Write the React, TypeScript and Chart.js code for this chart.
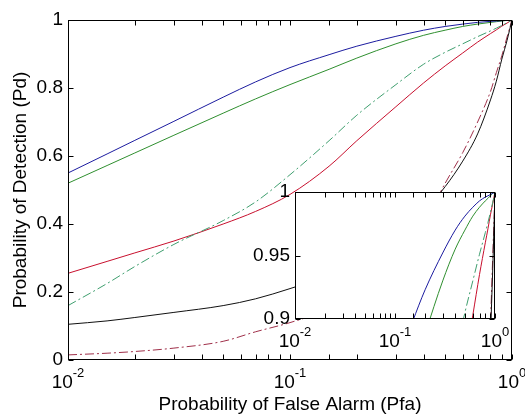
import React, { useEffect, useRef } from "react";
import { Chart, registerables } from "chart.js";

Chart.register(...registerables);

// Probability of false alarm (x)
const pfa = [0.01, 0.015, 0.02, 0.03, 0.05, 0.07, 0.1, 0.15, 0.2, 0.3, 0.4, 0.5, 0.6, 0.7, 0.8, 0.85, 0.9, 0.95, 1];

// Probability of detection for each curve
const pdBlue = [0.55, 0.606, 0.646, 0.702, 0.773, 0.818, 0.86, 0.898, 0.923, 0.952, 0.97, 0.981, 0.988, 0.993, 0.996, 0.997, 0.998, 0.999, 1];
const pdGreen = [0.52, 0.572, 0.609, 0.661, 0.726, 0.768, 0.81, 0.855, 0.888, 0.93, 0.955, 0.97, 0.981, 0.988, 0.993, 0.995, 0.997, 0.999, 1];
const pdGreenDashDot = [0.16, 0.225, 0.275, 0.34, 0.41, 0.465, 0.545, 0.645, 0.72, 0.81, 0.87, 0.905, 0.93, 0.951, 0.968, 0.976, 0.984, 0.992, 1];
const pdRed = [0.255, 0.29, 0.315, 0.35, 0.4, 0.437, 0.487, 0.57, 0.645, 0.745, 0.815, 0.865, 0.903, 0.935, 0.96, 0.971, 0.982, 0.991, 1];
const pdBlack = [0.105, 0.115, 0.125, 0.14, 0.16, 0.18, 0.21, 0.25, 0.29, 0.36, 0.435, 0.51, 0.585, 0.665, 0.765, 0.82, 0.885, 0.94, 1];
const pdRedDashDot = [0.015, 0.02, 0.025, 0.035, 0.055, 0.083, 0.11, 0.15, 0.2, 0.29, 0.4, 0.52, 0.61, 0.7, 0.79, 0.845, 0.895, 0.95, 1];

const seriesValues = [pdBlue, pdGreen, pdGreenDashDot, pdRed, pdBlack, pdRedDashDot];
const seriesNames = ["blue", "green", "green dash-dot", "red", "black", "red dash-dot"];
const seriesColors = ["#1c1ca0", "#2f8f2f", "#3f9f6f", "#c8102e", "#111111", "#a0304a"];
const seriesDashes: number[][] = [[], [], [9, 3, 2, 3], [], [], [9, 3, 2, 3]];

// Tick labels (x axis: base 10 with exponent)
const xTickBase = "10";
const xTickExponents: Record<string, string> = { "-2": "-2", "-1": "-1", "0": "0" };
const mainYTicks = [0, 0.2, 0.4, 0.6, 0.8, 1];
const insetYTicks = [0.9, 0.95, 1];

const FONT = "'Liberation Sans', Arial, Helvetica, sans-serif";
const BASE_SIZE = 19;
const EXP_SIZE = 13;

const makeDatasets = () =>
  seriesValues.map((vals, i) => ({
    label: seriesNames[i],
    data: pfa.map((x, j) => ({ x, y: vals[j] })),
    borderColor: seriesColors[i],
    borderDash: seriesDashes[i],
    borderWidth: 1,
    pointRadius: 0,
    fill: false,
    cubicInterpolationMode: "monotone" as const,
  }));

const yLabel = (v: number) => String(parseFloat(Number(v).toFixed(2)));

const boxPlugin = {
  id: "matlabBox",
  beforeDraw(chart: any) {
    const { ctx, chartArea: a } = chart;
    ctx.save();
    ctx.fillStyle = "#ffffff";
    ctx.fillRect(a.left, a.top, a.right - a.left, a.bottom - a.top);
    ctx.restore();
  },
  afterDraw(chart: any) {
    const { ctx, chartArea: a, scales } = chart;
    const tl = 5;
    ctx.save();
    ctx.strokeStyle = "#000";
    ctx.lineWidth = 1;
    const L = Math.round(a.left) + 0.5;
    const R = Math.round(a.right) - 0.5;
    const T = Math.round(a.top) + 0.5;
    const B = Math.round(a.bottom) - 0.5;
    ctx.beginPath();
    scales.x.ticks.forEach((t: any) => {
      const px = Math.round(scales.x.getPixelForValue(t.value)) + 0.5;
      ctx.moveTo(px, B);
      ctx.lineTo(px, B - tl);
      ctx.moveTo(px, T);
      ctx.lineTo(px, T + tl);
    });
    scales.y.ticks.forEach((t: any) => {
      const py = Math.round(scales.y.getPixelForValue(t.value)) + 0.5;
      ctx.moveTo(L, py);
      ctx.lineTo(L + tl, py);
      ctx.moveTo(R, py);
      ctx.lineTo(R - tl, py);
    });
    ctx.stroke();
    ctx.strokeRect(L, T, R - L, B - T);

    // x tick labels: "10" with superscript exponent at each decade
    ctx.fillStyle = "#000";
    ctx.textBaseline = "alphabetic";
    ctx.textAlign = "left";
    const baseY = a.bottom + 28;
    scales.x.ticks.forEach((t: any) => {
      const l = Math.log10(t.value);
      const r = Math.round(l);
      if (Math.abs(l - r) > 1e-9) return;
      const exp = xTickExponents[String(r)];
      if (exp === undefined) return;
      const px = scales.x.getPixelForValue(t.value);
      ctx.font = `${BASE_SIZE}px ${FONT}`;
      const wb = ctx.measureText(xTickBase).width;
      ctx.font = `${EXP_SIZE}px ${FONT}`;
      const we = ctx.measureText(exp).width;
      const x0 = px - (wb + we) / 2;
      ctx.font = `${BASE_SIZE}px ${FONT}`;
      ctx.fillText(xTickBase, x0, baseY);
      ctx.font = `${EXP_SIZE}px ${FONT}`;
      ctx.fillText(exp, x0 + wb, baseY - 11);
    });
    ctx.restore();
  },
};

export default function App() {
  const mainRef = useRef<HTMLCanvasElement>(null);
  const insetRef = useRef<HTMLCanvasElement>(null);

  useEffect(() => {
    Chart.defaults.font.family = FONT;
    Chart.defaults.color = "#000";

    const main = new Chart(mainRef.current!, {
      type: "line",
      data: { datasets: makeDatasets() },
      plugins: [boxPlugin],
      options: {
        animation: false,
        responsive: false,
        events: [],
        layout: { padding: { top: 20, right: 13, left: 0, bottom: 0 } },
        plugins: { legend: { display: false }, tooltip: { enabled: false } },
        scales: {
          x: {
            type: "logarithmic",
            min: 0.01,
            max: 1,
            grid: { display: false, drawTicks: false },
            border: { display: false },
            ticks: { display: false, autoSkip: false },
            title: {
              display: true,
              text: "Probability of False Alarm (Pfa)",
              color: "#000",
              font: { size: 19 },
              padding: { top: 0, bottom: 0 },
            },
            afterFit: (s: any) => {
              s.height = 56;
              s.paddingLeft = 0;
              s.paddingRight = 0;
            },
          },
          y: {
            type: "linear",
            min: 0,
            max: 1,
            grid: { display: false, drawTicks: false },
            border: { display: false },
            afterBuildTicks: (s: any) => {
              s.ticks = mainYTicks.map((value) => ({ value }));
            },
            ticks: {
              padding: 5,
              color: "#000",
              font: { size: 19 },
              callback: (v: any) => yLabel(v),
            },
            title: {
              display: true,
              text: "Probability of Detection (Pd)",
              color: "#000",
              font: { size: 19 },
              padding: { top: 9, bottom: 0 },
            },
            afterFit: (s: any) => {
              s.width = 68;
              s.paddingTop = 0;
              s.paddingBottom = 0;
            },
          },
        },
      },
    } as any);

    const inset = new Chart(insetRef.current!, {
      type: "line",
      data: { datasets: makeDatasets() },
      plugins: [boxPlugin],
      options: {
        animation: false,
        responsive: false,
        events: [],
        layout: { padding: { top: 20, right: 20, left: 0, bottom: 0 } },
        plugins: { legend: { display: false }, tooltip: { enabled: false } },
        scales: {
          x: {
            type: "logarithmic",
            min: 0.01,
            max: 1,
            grid: { display: false, drawTicks: false },
            border: { display: false },
            ticks: { display: false, autoSkip: false },
            afterFit: (s: any) => {
              s.height = 33;
              s.paddingLeft = 0;
              s.paddingRight = 0;
            },
          },
          y: {
            type: "linear",
            min: 0.9,
            max: 1,
            grid: { display: false, drawTicks: false },
            border: { display: false },
            afterBuildTicks: (s: any) => {
              s.ticks = insetYTicks.map((value) => ({ value }));
            },
            ticks: {
              padding: 5,
              color: "#000",
              font: { size: 19 },
              callback: (v: any) => yLabel(v),
            },
            afterFit: (s: any) => {
              s.width = 70;
              s.paddingTop = 0;
              s.paddingBottom = 0;
            },
          },
        },
      },
    } as any);

    return () => {
      main.destroy();
      inset.destroy();
    };
  }, []);

  return (
    <div style={{ position: "fixed", left: 0, top: 0, width: 525, height: 416, background: "#fff" }}>
      <canvas ref={mainRef} width={525} height={416} style={{ position: "absolute", left: 0, top: 0 }} />
      <canvas ref={insetRef} width={290} height={180} style={{ position: "absolute", left: 225, top: 172 }} />
    </div>
  );
}
